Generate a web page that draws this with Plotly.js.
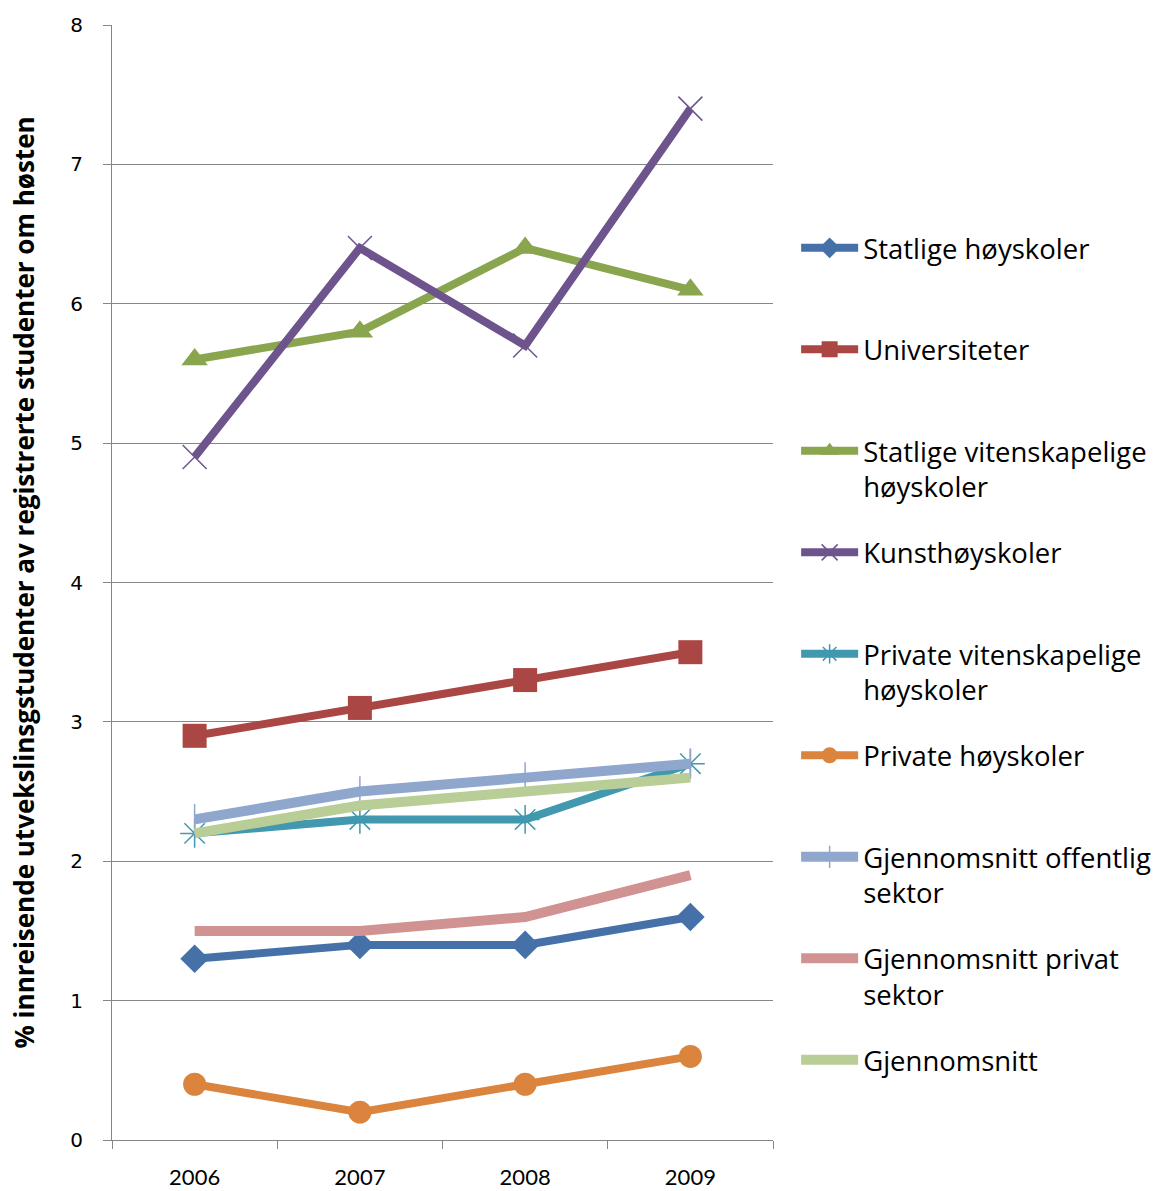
<!DOCTYPE html>
<html>
<head>
<meta charset="utf-8">
<script src="https://cdn.plot.ly/plotly-3.0.1.min.js"></script>
<style>
  html, body { margin: 0; padding: 0; background: #ffffff; }
  #chart { width: 1161px; height: 1191px; }
</style>
</head>
<body>
<div id="chart"></div>
<script>
// Years on the category axis
const years = ['2006', '2007', '2008', '2009'];

// Share of incoming exchange students (%) per institution type
const statligeHoyskoler = [1.3, 1.4, 1.4, 1.6];
const universiteter = [2.9, 3.1, 3.3, 3.5];
const statligeVitenskapelige = [5.6, 5.8, 6.4, 6.1];
const kunsthoyskoler = [4.9, 6.4, 5.7, 7.4];
const privateVitenskapelige = [2.2, 2.3, 2.3, 2.7];
const privateHoyskoler = [0.4, 0.2, 0.4, 0.6];
const snittOffentlig = [2.3, 2.5, 2.6, 2.7];
const snittPrivat = [1.5, 1.5, 1.6, 1.9];
const snittTotalt = [2.2, 2.4, 2.5, 2.6];

const yTicks = [0, 1, 2, 3, 4, 5, 6, 7, 8];

// every legend entry gets two text lines so the entries are evenly spaced
const BLANK = '<br>\u00a0';

function series(name, y, color, width, marker) {
  const t = {
    type: 'scatter',
    x: years,
    y: y,
    name: name,
    legendgroup: name,
    mode: marker ? 'lines+markers' : 'lines',
    line: { color: color, width: width, shape: 'linear' },
    hoverinfo: 'x+y+name'
  };
  if (marker) t.marker = marker;
  return t;
}

const traces = [
  series('Statlige høyskoler' + BLANK, statligeHoyskoler, '#4571A8', 8,
    { symbol: 'diamond', size: 22, color: '#4571A8' }),
  series('Universiteter' + BLANK, universiteter, '#AA4643', 8,
    { symbol: 'square', size: 24, color: '#AA4643' }),
  series('Statlige vitenskapelige<br>høyskoler', statligeVitenskapelige, '#89A54E', 8,
    { symbol: 'triangle-up', size: 23, color: '#89A54E' }),
  series('Kunsthøyskoler' + BLANK, kunsthoyskoler, '#6E548D', 8,
    { symbol: 'x-thin-open', size: 24, color: '#6E548D', line: { width: 1.5, color: '#6E548D' } }),
  series('Private vitenskapelige<br>høyskoler', privateVitenskapelige, '#4198AF', 8,
    { symbol: 'asterisk-open', size: 24, color: '#4198AF', line: { width: 1.5, color: '#4198AF' } }),
  series('Private høyskoler' + BLANK, privateHoyskoler, '#DB843D', 8,
    { symbol: 'circle', size: 23, color: '#DB843D' }),
  series('Gjennomsnitt offentlig<br>sektor', snittOffentlig, '#8FA6CD', 10,
    { symbol: 'line-ns-open', size: 22, color: '#8FA6CD', line: { width: 1.5, color: '#8FA6CD' } }),
  series('Gjennomsnitt privat<br>sektor', snittPrivat, '#D19392', 10, null),
  series('Gjennomsnitt' + BLANK, snittTotalt, '#B9CD96', 10, null)
];

const axisGrey = '#868686';

const layout = {
  width: 1161,
  height: 1191,
  margin: { l: 112, r: 388, t: 25, b: 51, autoexpand: false },
  paper_bgcolor: '#ffffff',
  plot_bgcolor: '#ffffff',
  font: { family: '"Open Sans", sans-serif', color: '#000000' },
  showlegend: true,
  legend: {
    x: 1.035,
    xanchor: 'left',
    y: 0.822,
    yanchor: 'top',
    traceorder: 'grouped',
    tracegroupgap: 27,
    valign: 'top',
    itemwidth: 57,
    font: { family: '"Open Sans", sans-serif', size: 27.5, color: '#000000' },
    bgcolor: 'rgba(0,0,0,0)',
    borderwidth: 0
  },
  xaxis: {
    type: 'category',
    range: [-0.5, 3.5],
    tickson: 'boundaries',
    ticks: 'outside',
    ticklen: 8,
    tickwidth: 1,
    tickcolor: axisGrey,
    showline: true,
    linecolor: axisGrey,
    linewidth: 1,
    showgrid: false,
    zeroline: false,
    ticklabelstandoff: 18,
    tickfont: { family: 'Lato, sans-serif', size: 22, color: '#000000' }
  },
  yaxis: {
    range: [0, 8],
    tickvals: yTicks,
    ticktext: yTicks.map(String),
    ticks: 'outside',
    ticklen: 8,
    tickwidth: 1,
    tickcolor: axisGrey,
    showline: true,
    linecolor: axisGrey,
    linewidth: 1,
    showgrid: true,
    gridcolor: axisGrey,
    gridwidth: 1,
    zeroline: false,
    ticklabelstandoff: 16,
    tickfont: { family: '"DejaVu Sans", sans-serif', size: 20, color: '#000000' },
    title: {
      text: '% innreisende utvekslinsgstudenter av registrerte studenter om høsten',
      font: { family: '"Open Sans", sans-serif', size: 26, color: '#000000', weight: 'bold' },
      standoff: 28
    }
  }
};

Plotly.newPlot('chart', traces, layout, { displayModeBar: false, staticPlot: true });
</script>
</body>
</html>
